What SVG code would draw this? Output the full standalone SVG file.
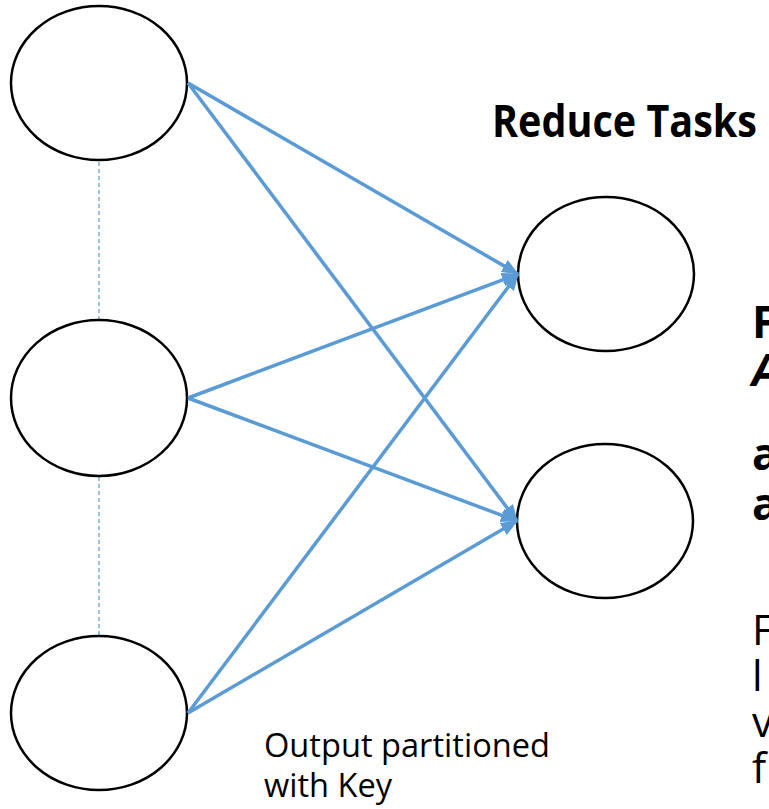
<svg xmlns="http://www.w3.org/2000/svg" width="769" height="809" viewBox="0 0 769 809">
<style>
.node{fill:#fff;stroke:#000;stroke-width:2.5}
.conn{stroke:#5B9BD5;stroke-width:3.5;fill:none;marker-end:url(#ah)}
.dash{stroke:#5B9BD5;stroke-width:1.2;stroke-dasharray:4 3;fill:none}
.t{font-family:"Open Sans","Liberation Sans",sans-serif;fill:#000}
.b{font-weight:bold}
</style>
<defs>
<marker id="ah" markerUnits="userSpaceOnUse" markerWidth="18" markerHeight="14" refX="16" refY="7" orient="auto">
<path d="M0,0 L17,7 L0,14 z" fill="#5B9BD5"/>
</marker>
</defs>
<rect width="769" height="809" fill="#fff"/>
<g id="dashes">
<line class="dash" x1="99" y1="162" x2="99" y2="320"/>
<line class="dash" x1="99" y1="477" x2="99" y2="636"/>
</g>
<g id="map1"><ellipse class="node" cx="99" cy="83" rx="88" ry="77"/></g>
<g id="map2"><ellipse class="node" cx="99" cy="398" rx="88" ry="78"/></g>
<g id="map3"><ellipse class="node" cx="99" cy="713" rx="88" ry="77"/></g>
<g id="reduce1"><ellipse class="node" cx="606" cy="274" rx="88" ry="77"/></g>
<g id="reduce2"><ellipse class="node" cx="605" cy="521" rx="88" ry="77"/></g>
<g id="connectors">
<line class="conn" x1="188" y1="83" x2="518" y2="274"/>
<line class="conn" x1="188" y1="83" x2="517" y2="521"/>
<line class="conn" x1="188" y1="398" x2="518" y2="274"/>
<line class="conn" x1="188" y1="398" x2="517" y2="521"/>
<line class="conn" x1="188" y1="713" x2="518" y2="274"/>
<line class="conn" x1="188" y1="713" x2="517" y2="521"/>
</g>
<g id="labels">
<text class="t b" x="492" y="137" font-size="44" textLength="265" lengthAdjust="spacingAndGlyphs">Reduce Tasks</text>
<text class="t" x="264" y="757" font-size="32" textLength="286" lengthAdjust="spacingAndGlyphs">Output partitioned</text>
<text class="t" x="264" y="797" font-size="32" textLength="128" lengthAdjust="spacingAndGlyphs">with Key</text>
<text class="t b" x="752" y="338" font-size="44">F</text>
<text class="t b" x="752" y="386" font-size="44" font-style="italic">A</text>
<text class="t b" x="752" y="470" font-size="44">a</text>
<text class="t b" x="752" y="520" font-size="44">a</text>
<text class="t" x="752" y="645" font-size="42">F</text>
<text class="t" x="752" y="691" font-size="42">l</text>
<text class="t" x="752" y="737" font-size="42">v</text>
<text class="t" x="752" y="783" font-size="42">f</text>
</g>
</svg>
